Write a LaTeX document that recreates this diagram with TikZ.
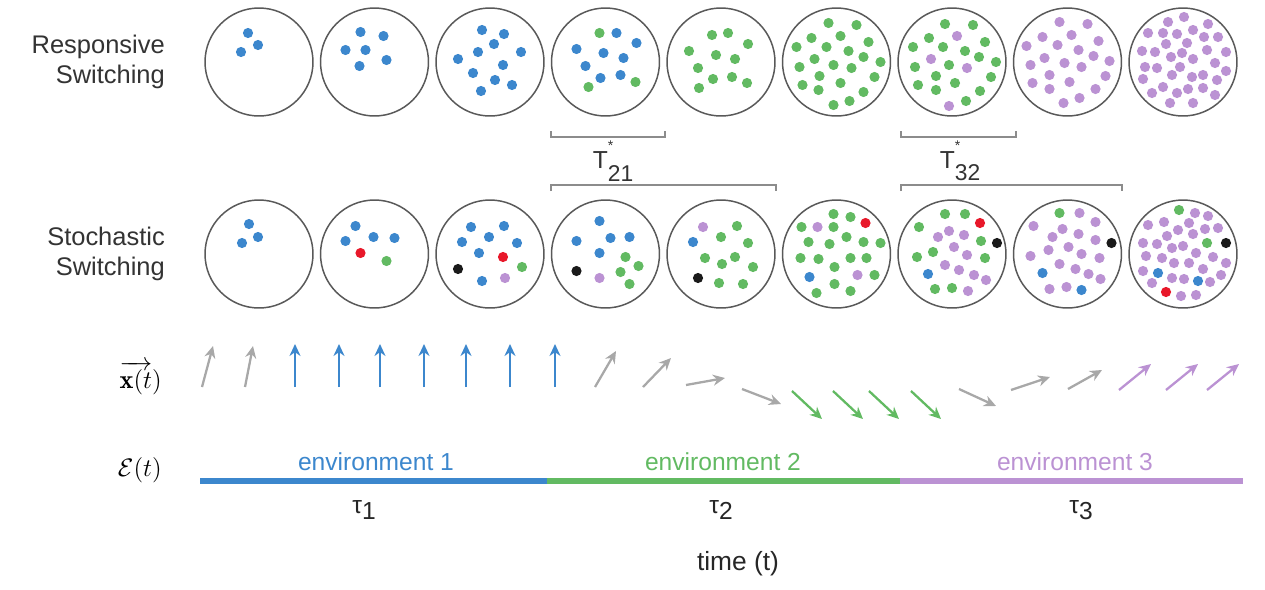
\documentclass[tikz,border=0pt]{standalone}
\usepackage{fontspec}
\setsansfont{Liberation Sans}
\usetikzlibrary{arrows.meta, positioning}
\definecolor{cb}{HTML}{3C87CD}
\definecolor{cg}{HTML}{62BA62}
\definecolor{cp}{HTML}{BB92D3}
\definecolor{cr}{HTML}{E8182A}
\definecolor{ck}{HTML}{1A1A1A}
\definecolor{cgrey}{HTML}{A8A8A8}
\tikzset{
  every picture/.style={font=\sffamily},
  cell/.style={circle, draw=black!65, line width=0.85pt, minimum size=2.16cm, inner sep=0pt},
  vec/.style={draw=#1, line width=1.3pt, -{Stealth[length=2.4mm, width=2.2mm]}},
  vec/.default=cgrey,
  rowlabel/.style={font=\sffamily\fontsize{14.5}{17}\selectfont, text=black!80, align=right, anchor=east},
  envlabel/.style={font=\sffamily\fontsize{14}{16}\selectfont, text=#1},
  bracket/.style={draw=black!45, line width=0.6pt},
  envbar/.style={draw=#1, line width=3.4pt},
  mathlabel/.style={font=\fontsize{15}{18}\selectfont, anchor=east},
  timelabel/.style={font=\sffamily\fontsize{14}{16}\selectfont, text=black!80},
}

\begin{document}
\begin{tikzpicture}[x=0.02cm, y=-0.02cm]
  \useasboundingbox (0,0) rectangle (1265,589);
  % the two rows of populations
  \foreach \i in {1,...,9} {
    \node[cell] (r\i) at ({259+115.5*(\i-1)},62) {};
    \node[cell] (s\i) at ({259+115.5*(\i-1)},254) {};
  }
  \node[rowlabel] (resp) at (171,62) {Responsive\\Switching};
  \node[rowlabel] (stoch) at (171,254) {Stochastic\\Switching};
  % responsive switching
  \foreach \dx/\dy/\c in {-11/-29/cb, -1/-17/cb, -18/-10/cb}
    \fill[\c] ([shift={(\dx,\dy)}]r1.center) circle (2.9pt);
  \foreach \dx/\dy/\c in {-14/-30/cb, 9/-26/cb, -29/-12/cb, -9/-12/cb, 12/-2/cb, -15/4/cb}
    \fill[\c] ([shift={(\dx,\dy)}]r2.center) circle (2.9pt);
  \foreach \dx/\dy/\c in {-8/-32/cb, 14/-28/cb, 4/-18/cb, -12/-10/cb, 31/-10/cb, -32/-3/cb,
      13/3/cb, -17/11/cb, 5/18/cb, 22/23/cb, -9/29/cb}
    \fill[\c] ([shift={(\dx,\dy)}]r3.center) circle (2.9pt);
  \foreach \dx/\dy/\c in {-6/-29/cg, 11/-29/cb, 31/-19/cb, -29/-13/cb, -2/-9/cb, 18/-4/cb,
      -20/4/cb, -5/16/cb, 15/13/cb, -17/25/cg, 30/20/cg}
    \fill[\c] ([shift={(\dx,\dy)}]r4.center) circle (2.9pt);
  \foreach \dx/\dy/\c in {-9/-27/cg, 7/-29/cg, 27/-18/cg, -32/-11/cg, -5/-7/cg, 14/-3/cg,
      -23/6/cg, -8/17/cg, 11/15/cg, 26/21/cg, -22/26/cg}
    \fill[\c] ([shift={(\dx,\dy)}]r5.center) circle (2.9pt);
  \foreach \dx/\dy/\c in {-8/-39/cg, 20/-37/cg, -25/-24/cg, 4/-26/cg, -40/-15/cg, -10/-15/cg,
      12/-11/cg, 32/-20/cg, -22/-3/cg, -3/3/cg, 27/-5/cg, 44/0/cg, -37/5/cg, -17/14/cg,
      15/6/cg, 38/15/cg, 4/21/cg, -34/23/cg, -18/28/cg, 27/30/cg, -3/43/cg, 13/39/cg}
    \fill[\c] ([shift={(\dx,\dy)}]r6.center) circle (2.9pt);
  \foreach \dx/\dy/\c in {-7/-38/cg, 21/-37/cg, -23/-24/cg, 5/-26/cp, -39/-15/cg, -9/-15/cg,
      33/-20/cg, 13/-11/cg, -21/-3/cp, -3/3/cg, 27/-5/cg, 44/0/cg, -37/5/cg, 15/6/cp,
      -16/14/cg, 39/15/cg, 3/21/cg, -34/23/cg, -16/28/cg, 28/29/cg, -3/44/cp, 14/39/cg}
    \fill[\c] ([shift={(\dx,\dy)}]r7.center) circle (2.9pt);
  \foreach \dx/\dy/\c in {-8/-40/cp, 20/-38/cp, -25/-25/cp, 4/-27/cp, -41/-16/cp, -10/-17/cp,
      31/-21/cp, 11/-12/cp, -23/-4/cp, -3/1/cp, 26/-6/cp, 42/-1/cp, -37/3/cp, 14/5/cp,
      -18/13/cp, 38/14/cp, 2/20/cp, -35/21/cp, -18/27/cp, 28/27/cp, -4/41/cp, 12/36/cp}
    \fill[\c] ([shift={(\dx,\dy)}]r8.center) circle (2.9pt);
  \foreach \dx/\dy/\c in {-15/-40/cp, 1/-45/cp, 25/-38/cp, -35/-29/cp, -20/-29/cp, -6/-28/cp,
      10/-32/cp, 21/-25/cp, 35/-25/cp, -17/-18/cp, 4/-19/cp, 24/-12/cp, -41/-11/cp,
      -28/-10/cp, -12/-5/cp, -1/-9/cp, 10/-3/cp, 43/-10/cp, -38/5/cp, -26/6/cp, -11/13/cp,
      -3/5/cp, 9/15/cp, 20/13/cp, 32/1/cp, 43/9/cp, -40/17/cp, -20/25/cp, -6/31/cp, 5/27/cp,
      20/26/cp, 34/18/cp, -31/31/cp, 32/33/cp, -13/41/cp, 10/41/cp}
    \fill[\c] ([shift={(\dx,\dy)}]r9.center) circle (2.9pt);
  % stochastic switching
  \foreach \dx/\dy/\c in {-10/-30/cb, -1/-17/cb, -17/-11/cb}
    \fill[\c] ([shift={(\dx,\dy)}]s1.center) circle (2.9pt);
  \foreach \dx/\dy/\c in {-19/-28/cb, -1/-17/cb, 20/-16/cb, -29/-13/cb, -14/-1/cr, 12/7/cg}
    \fill[\c] ([shift={(\dx,\dy)}]s2.center) circle (2.9pt);
  \foreach \dx/\dy/\c in {-19/-27/cb, 14/-28/cb, -1/-17/cb, -28/-12/cb, 27/-11/cb, -11/-1/cb,
      13/3/cr, -32/15/ck, 32/13/cg, -8/27/cb, 15/24/cp}
    \fill[\c] ([shift={(\dx,\dy)}]s3.center) circle (2.9pt);
  \foreach \dx/\dy/\c in {-6/-33/cb, -29/-13/cb, 5/-16/cb, 24/-17/cb, -6/-1/cb, 20/3/cg,
      33/12/cg, -29/17/ck, 15/18/cg, -6/24/cp, 24/30/cg}
    \fill[\c] ([shift={(\dx,\dy)}]s4.center) circle (2.9pt);
  \foreach \dx/\dy/\c in {-18/-27/cp, 16/-28/cg, -28/-12/cb, 0/-17/cg, 27/-11/cg, -16/4/cg,
      1/10/cg, 14/3/cg, 32/13/cg, -23/24/ck, -2/29/cg, 22/30/cg}
    \fill[\c] ([shift={(\dx,\dy)}]s5.center) circle (2.9pt);
  \foreach \dx/\dy/\c in {-3/-40/cg, 14/-37/cg, 29/-31/cr, -35/-27/cg, -19/-27/cp, -3/-27/cg,
      -28/-12/cg, -7/-10/cg, 10/-17/cg, 27/-12/cg, 44/-11/cg, -36/4/cg, -18/5/cg, -2/13/cg,
      14/4/cg, 30/4/cg, -27/23/cb, -2/30/cg, 21/21/cp, 38/21/cg, -20/39/cg, 14/37/cg}
    \fill[\c] ([shift={(\dx,\dy)}]s6.center) circle (2.9pt);
  \foreach \dx/\dy/\c in {-7/-40/cg, 13/-40/cg, 28/-31/cr, -33/-27/cg, -3/-23/cp, -14/-17/cp,
      12/-19/cp, 29/-13/cg, 45/-11/ck, -19/-2/cg, 2/-7/cp, -35/3/cg, 15/1/cp, 33/4/cg,
      -7/11/cp, 7/16/cp, 22/21/cp, 34/26/cp, -24/20/cb, -17/35/cg, 0/34/cg, 16/37/cp}
    \fill[\c] ([shift={(\dx,\dy)}]s7.center) circle (2.9pt);
  \foreach \dx/\dy/\c in {-8/-41/cg, 12/-41/cp, 28/-32/cp, -34/-28/cp, -5/-25/cp, -15/-17/cp,
      11/-20/cp, 28/-14/cp, 44/-11/ck, -19/-4/cp, 1/-7/cp, -37/2/cp, 14/0/cp, 32/4/cp,
      -8/10/cp, 8/15/cp, 21/20/cp, 33/25/cp, -25/19/cb, -18/35/cp, -1/33/cp, 14/36/cb}
    \fill[\c] ([shift={(\dx,\dy)}]s8.center) circle (2.9pt);
  \foreach \dx/\dy/\c in {-4/-44/cg, 12/-41/cp, 25/-38/cp, -35/-29/cp, -19/-32/cp, -5/-24/cp,
      6/-31/cp, 22/-25/cp, 35/-26/cp, -16/-18/cp, 10/-20/cp, -40/-11/cp, -26/-10/cp,
      -11/-6/cp, 0/-8/cp, 24/-11/cg, 43/-11/ck, 13/-1/cp, -37/2/cp, -21/4/cp, -9/9/cp,
      6/9/cp, 30/3/cp, 43/9/cp, 20/15/cp, -40/17/cp, -25/19/cb, -11/24/cp, 1/25/cp,
      15/27/cb, 27/28/cp, 38/21/cp, -31/29/cp, -17/38/cr, -2/42/cp, 13/41/cp}
    \fill[\c] ([shift={(\dx,\dy)}]s9.center) circle (2.9pt);
  % switching times
  \draw[bracket] (551,131) -- (551,137) -- (665,137) -- (665,131);
  \draw[bracket] (551,191) -- (551,185) -- (776,185) -- (776,191);
  \draw[bracket] (901,131) -- (901,137) -- (1016,137) -- (1016,131);
  \draw[bracket] (901,191) -- (901,185) -- (1122,185) -- (1122,191);
  \node[timelabel] (T21) at (613,161)
    {T\rlap{\raisebox{1.35ex}{\footnotesize *}}\raisebox{-1ex}{\fontsize{13}{15}\selectfont 21}};
  \node[timelabel] (T32) at (960,161)
    {T\rlap{\raisebox{1.35ex}{\footnotesize *}}\raisebox{-1ex}{\fontsize{13}{15}\selectfont 32}};
  % phenotype vectors
  \node[mathlabel] (xlab) at (168,378) {$\overrightarrow{\mathbf{x}(t})$};
  \draw[vec] (202,387) -- (213,346);
  \draw[vec] (245,387) -- (253,346);
  \foreach \x in {295,339,380,424,466,510,555}
    \draw[vec=cb] (\x,387) -- (\x,344);
  \draw[vec] (595,387) -- (616,351);
  \draw[vec] (643,387) -- (671,358);
  \draw[vec] (686,385) -- (725,378);
  \draw[vec] (742,389) -- (781,404);
  \foreach \x in {792,833,869,911}
    \draw[vec=cg] (\x,391) -- ++(30,28);
  \draw[vec] (959,389) -- (996,406);
  \draw[vec] (1011,390) -- (1050,377);
  \draw[vec] (1068,389) -- (1102,370);
  \foreach \x in {1119,1166,1207}
    \draw[vec=cp] (\x,390) -- ++(32,-26);
  % environment
  \node[mathlabel] (elab) at (168,470) {$\mathcal{E}(t)$};
  \draw[envbar=cb] (200,481) -- (547,481);
  \draw[envbar=cg] (547,481) -- (900,481);
  \draw[envbar=cp] (900,481) -- (1243,481);
  \node[envlabel=cb] (env1) at (376,462) {environment 1};
  \node[envlabel=cg] (env2) at (723,462) {environment 2};
  \node[envlabel=cp] (env3) at (1075,462) {environment 3};
  \node[envlabel=black!85] (tau1) at (364,510) {τ\raisebox{-0.5ex}{1}};
  \node[envlabel=black!85] (tau2) at (721,510) {τ\raisebox{-0.5ex}{2}};
  \node[envlabel=black!85] (tau3) at (1081,510) {τ\raisebox{-0.5ex}{3}};
  \node[font=\sffamily\fontsize{15}{18}\selectfont, text=black!85] (time) at (738,564) {time (t)};
\end{tikzpicture}
\end{document}
